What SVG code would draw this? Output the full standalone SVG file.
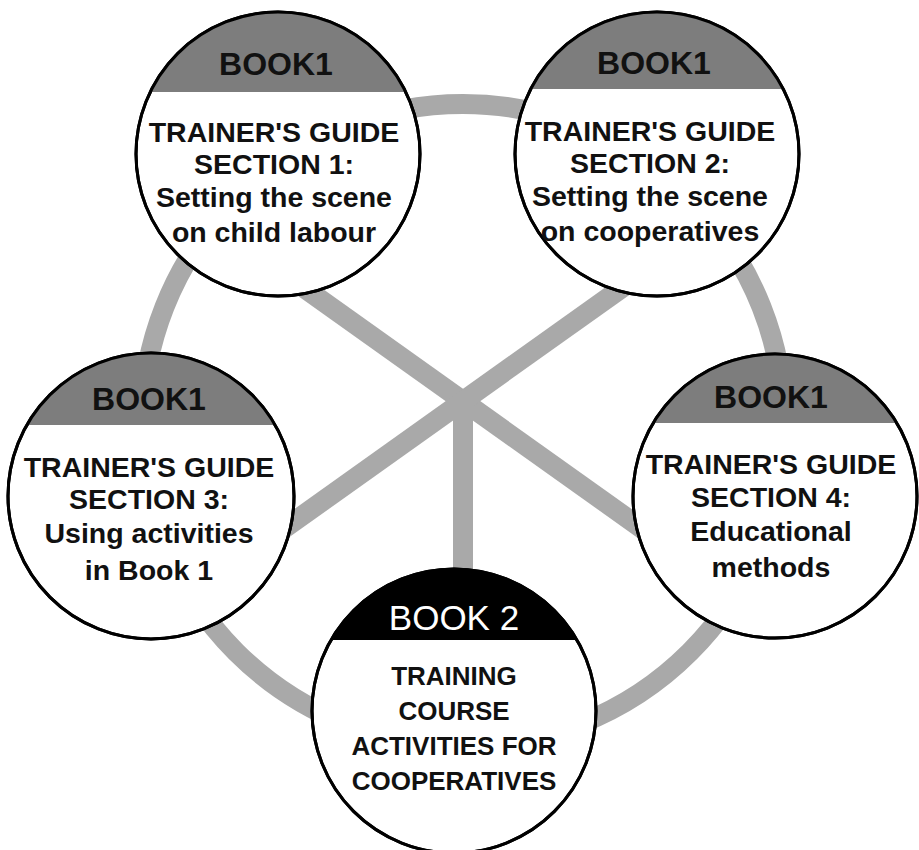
<svg xmlns="http://www.w3.org/2000/svg" width="919" height="850" viewBox="0 0 919 850">
<style>
.link{fill:none;stroke:#a9a9a9;stroke-width:20}
.disc{fill:#fff;stroke:#000;stroke-width:3}
.band{fill:#7d7d7d}
.band2{fill:#000}
.hd{font-family:"Liberation Sans",Arial,sans-serif;font-weight:bold;font-size:32px;fill:#111;text-anchor:middle}
.hd2{font-family:"Liberation Sans",Arial,sans-serif;font-size:35px;fill:#fff;text-anchor:middle}
.t{font-family:"Liberation Sans",Arial,sans-serif;font-weight:bold;font-size:28.5px;fill:#111;text-anchor:middle}
.t2{font-family:"Liberation Sans",Arial,sans-serif;font-weight:bold;font-size:26px;fill:#111;text-anchor:middle}
.ring{fill:none;stroke:#000;stroke-width:3}
</style>
<rect width="919" height="850" fill="#fff"/>
<g id="connectors">
<circle class="link" cx="463" cy="425" r="321"/>
<line class="link" x1="300" y1="285" x2="700" y2="570"/>
<line class="link" x1="626" y1="285" x2="226" y2="570"/>
<line class="link" x1="463" y1="395" x2="463" y2="600"/>
</g>
<g id="node1">
<circle class="disc" cx="278" cy="154" r="142"/>
<path class="band" d="M150.25 92 A142 142 0 0 1 405.75 92 Z"/>
<circle class="ring" cx="278" cy="154" r="142"/>
<text class="hd" x="276" y="75">BOOK1</text>
<text class="t" x="274" y="142">TRAINER'S GUIDE</text>
<text class="t" x="274" y="174">SECTION 1:</text>
<text class="t" x="274" y="207">Setting the scene</text>
<text class="t" x="274" y="242">on child labour</text>
</g>
<g id="node2">
<circle class="disc" cx="657" cy="154" r="142"/>
<path class="band" d="M530.75 89 A142 142 0 0 1 783.25 89 Z"/>
<circle class="ring" cx="657" cy="154" r="142"/>
<text class="hd" x="654" y="74">BOOK1</text>
<text class="t" x="650" y="141">TRAINER'S GUIDE</text>
<text class="t" x="650" y="173">SECTION 2:</text>
<text class="t" x="650" y="206">Setting the scene</text>
<text class="t" x="650" y="241">on cooperatives</text>
</g>
<g id="node3">
<circle class="disc" cx="151" cy="496" r="143"/>
<path class="band" d="M26.9 425 A143 143 0 0 1 275.1 425 Z"/>
<circle class="ring" cx="151" cy="496" r="143"/>
<text class="hd" x="149" y="410">BOOK1</text>
<text class="t" x="149" y="477">TRAINER'S GUIDE</text>
<text class="t" x="149" y="509">SECTION 3:</text>
<text class="t" x="149" y="543">Using activities</text>
<text class="t" x="149" y="580">in Book 1</text>
</g>
<g id="node4">
<circle class="disc" cx="775" cy="496" r="142"/>
<path class="band" d="M653.2 423 A142 142 0 0 1 896.8 423 Z"/>
<circle class="ring" cx="775" cy="496" r="142"/>
<text class="hd" x="771" y="408">BOOK1</text>
<text class="t" x="771" y="474">TRAINER'S GUIDE</text>
<text class="t" x="771" y="507">SECTION 4:</text>
<text class="t" x="771" y="541">Educational</text>
<text class="t" x="771" y="577">methods</text>
</g>
<g id="node5">
<circle class="disc" cx="454" cy="711" r="142"/>
<path class="band2" d="M331 640 A142 142 0 0 1 577 640 Z"/>
<circle class="ring" cx="454" cy="711" r="142"/>
<text class="hd2" x="454" y="630">BOOK 2</text>
<text class="t2" x="454" y="685">TRAINING</text>
<text class="t2" x="454" y="720">COURSE</text>
<text class="t2" x="454" y="755">ACTIVITIES FOR</text>
<text class="t2" x="454" y="790">COOPERATIVES</text>
</g>
</svg>
